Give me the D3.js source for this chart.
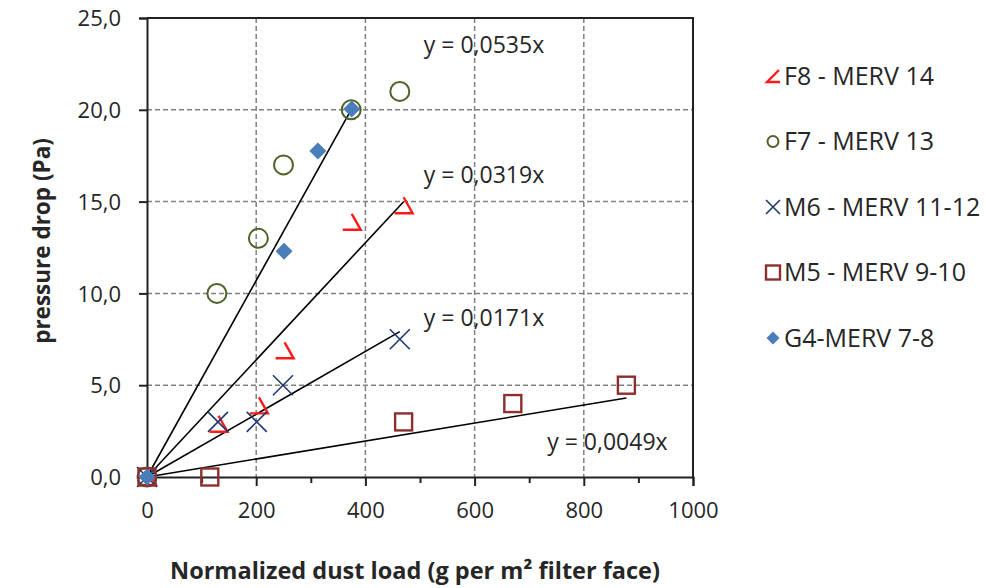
<!DOCTYPE html>
<html>
<head>
<meta charset="utf-8">
<script src="https://cdn.jsdelivr.net/npm/d3@7"></script>
<style>
  body { margin: 0; background: #fff; }
  svg { display: block; font-family: "Open Sans", sans-serif; }
</style>
</head>
<body>
<div id="container"></div>
<script>
// series (legend order)
const seriesNames = ["F8 - MERV 14", "F7 - MERV 13", "M6 - MERV 11-12", "M5 - MERV 9-10", "G4-MERV 7-8"];

const f8Load = [0, 131, 205, 252, 375, 470];
const f8Drop = [0, 2.9, 3.9, 6.9, 13.9, 14.8];

const f7Load = [0, 128, 204, 250, 374, 463];
const f7Drop = [0, 10, 13, 17, 20, 21];

const m6Load = [0, 130, 201, 249, 463];
const m6Drop = [0, 3, 3, 5, 7.5];

const m5Load = [0, 115, 470, 670, 878];
const m5Drop = [0, 0, 3, 4, 5];

const g4Load = [0, 251, 313, 375];
const g4Drop = [0, 12.3, 17.75, 20.05];

// trendlines (y = a*x), null = none
const trendSlopes = [0.0319, null, 0.0171, 0.0049, 0.0535];
const trendLabels = ["y = 0,0319x", null, "y = 0,0171x", "y = 0,0049x", "y = 0,0535x"];

const xTicks = [0, 200, 400, 600, 800, 1000];
const yTicks = [0, 5, 10, 15, 20, 25];

const xTitle = "Normalized dust load (g per m\u00B2 filter face)";
const yTitle = "pressure drop (Pa)";

const W = 986, H = 588;
const LEFT = 147, RIGHT = 693, TOP = 18, BOTTOM = 477;

const colors = ["#ff1a1a", "#4f6228", "#1f3a6e", "#8e2f2f", "#4a7ebb"];

// where the equation labels sit (data units of the plot)
const labelAt = [[507, 16.0], null, [507, 8.2], [733, 1.45], [507, 23.1]];

const series = seriesNames.map((name, i) => {
	const xs = [f8Load, f7Load, m6Load, m5Load, g4Load][i];
	const ys = [f8Drop, f7Drop, m6Drop, m5Drop, g4Drop][i];
	return { name, color: colors[i], points: xs.map((x, j) => ({ x, y: ys[j] })), slope: trendSlopes[i], label: trendLabels[i] };
});

const svg = d3.select("#container").append("svg")
	.attr("width", W)
	.attr("height", H);

const x = d3.scaleLinear().domain([0, 1000]).range([LEFT, RIGHT]);
const y = d3.scaleLinear().domain([0, 25]).range([BOTTOM, TOP]);

// grid
svg.append("g").selectAll("line").data(xTicks.slice(1, -1))
	.enter().append("line")
	.attr("x1", d => x(d)).attr("x2", d => x(d))
	.attr("y1", TOP).attr("y2", BOTTOM)
	.attr("stroke", "#808080").attr("stroke-width", 1.5).attr("stroke-dasharray", "5,3");
svg.append("g").selectAll("line").data(yTicks.slice(1, -1))
	.enter().append("line")
	.attr("x1", LEFT).attr("x2", RIGHT)
	.attr("y1", d => y(d)).attr("y2", d => y(d))
	.attr("stroke", "#808080").attr("stroke-width", 1.5).attr("stroke-dasharray", "5,3");

// border top/right
svg.append("path")
	.attr("d", `M${LEFT},${TOP}H${RIGHT}V${BOTTOM}`)
	.attr("fill", "none").attr("stroke", "#222").attr("stroke-width", 2);

// axes
const xAxis = d3.axisBottom(x).tickValues(xTicks).tickSize(9).tickPadding(16).tickFormat(d3.format("d"));
const xMinor = d3.axisBottom(x).tickValues(d3.range(100, 1000, 200)).tickSize(6).tickFormat("");
const yAxis = d3.axisLeft(y).tickValues(yTicks).tickSize(8).tickPadding(18).tickFormat(d => d3.format(".1f")(d).replace(".", ","));

const gx = svg.append("g").attr("transform", `translate(0,${BOTTOM})`).call(xAxis);
svg.append("g").attr("transform", `translate(0,${BOTTOM})`).call(xMinor)
	.call(g => g.select(".domain").remove());
const gy = svg.append("g").attr("transform", `translate(${LEFT},0)`).call(yAxis);

svg.selectAll(".domain").attr("stroke", "#222").attr("stroke-width", 2);
svg.selectAll(".tick line").attr("stroke", "#222").attr("stroke-width", 2);
svg.selectAll(".tick text").attr("font-family", "Open Sans").attr("font-size", 22).attr("fill", "#262626");
gy.selectAll(".tick text").attr("dy", "0.35em");

// trendlines
svg.append("g").selectAll("line").data(series.filter(s => s.slope != null))
	.enter().append("line")
	.attr("x1", x(0)).attr("y1", y(0))
	.attr("x2", s => x(d3.max(s.points, p => p.x)))
	.attr("y2", s => y(s.slope * d3.max(s.points, p => p.x)))
	.attr("stroke", "#000").attr("stroke-width", 1.6);

// markers
function drawMarker(g, idx, legend) {
	const c = colors[idx];
	if (idx === 0) {
		g.append("path")
			.attr("d", legend ? "M6,-6L-6,6H7" : "M0,-8L9,8H-9")
			.attr("fill", "none").attr("stroke", c).attr("stroke-width", 2.4);
	} else if (idx === 1) {
		g.append("circle").attr("r", legend ? 5.5 : 9.5)
			.attr("fill", "none").attr("stroke", c).attr("stroke-width", 2);
	} else if (idx === 2) {
		const r = legend ? 7 : 10;
		g.append("path").attr("d", `M${-r},${-r}L${r},${r}M${r},${-r}L${-r},${r}`)
			.attr("stroke", c).attr("stroke-width", 1.6);
	} else if (idx === 3) {
		const r = legend ? 7 : 8.5;
		g.append("rect").attr("x", -r).attr("y", -r).attr("width", 2 * r).attr("height", 2 * r)
			.attr("fill", "none").attr("stroke", c).attr("stroke-width", 2.4);
	} else {
		const r = legend ? 6.5 : 8.5;
		g.append("path").attr("d", `M0,${-r}L${r},0L0,${r}L${-r},0Z`).attr("fill", c);
	}
}

series.forEach((s, i) => {
	svg.append("g").selectAll("g").data(s.points)
		.enter().append("g")
		.attr("transform", p => `translate(${x(p.x)},${y(p.y)})`)
		.each(function() { drawMarker(d3.select(this), i, false); });
});

// equation labels
series.forEach((s, i) => {
	if (!s.label) return;
	svg.append("text")
		.attr("x", x(labelAt[i][0])).attr("y", y(labelAt[i][1]))
		.attr("font-size", 23).attr("fill", "#262626")
		.text(s.label);
});

// legend
const legend = svg.append("g");
seriesNames.forEach((name, i) => {
	const row = legend.append("g").attr("transform", `translate(773,${76 + i * 65.5})`);
	drawMarker(row, i, true);
	row.append("text").attr("x", 11).attr("y", 8.5)
		.attr("font-size", 25).attr("fill", "#262626").text(name);
});

// axis titles
svg.append("text")
	.attr("x", 415).attr("y", 579)
	.attr("text-anchor", "middle").attr("font-weight", "bold")
	.attr("font-size", 23.5).attr("fill", "#262626")
	.text(xTitle);
svg.append("text")
	.attr("transform", "translate(50,241) rotate(-90)")
	.attr("text-anchor", "middle").attr("font-weight", "bold")
	.attr("font-size", 22.5).attr("fill", "#262626")
	.text(yTitle);
</script>
</body>
</html>
